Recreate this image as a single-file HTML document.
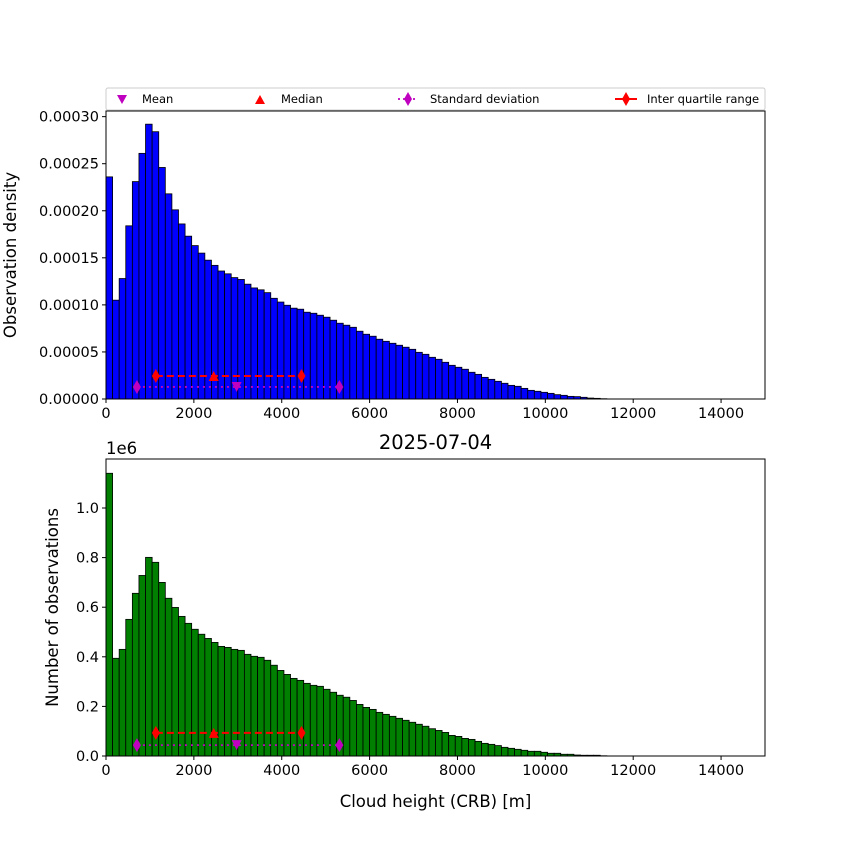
<!DOCTYPE html>
<html><head><meta charset="utf-8">
<style>
html,body{margin:0;padding:0;background:#fff;}
svg{display:block;font-family:"DejaVu Sans","Liberation Sans",sans-serif;}
</style></head>
<body>
<svg id="fig" width="850" height="850" viewBox="0 0 850 850"></svg>
<script>
const binWidth = 150;
const densityValues = [23.6,10.5,12.8,18.4,23.1,26.1,29.2,28.4,24.6,21.8,20.1,18.6,17.3,16.3,15.5,14.75,14.2,13.6,13.3,12.9,12.7,12.2,11.8,11.6,11.3,10.7,10.3,9.96,9.65,9.54,9.22,9.11,8.9,8.69,8.37,8.05,7.84,7.62,7.2,6.88,6.67,6.35,6.13,5.92,5.71,5.5,5.28,4.96,4.75,4.43,4.22,3.9,3.58,3.37,3.16,2.84,2.62,2.3,2.09,1.88,1.67,1.45,1.35,1.13,0.92,0.82,0.71,0.6,0.46,0.39,0.28,0.25,0.18,0.1,0.07,0.03];
const countValues = [1.14,0.394,0.43,0.551,0.656,0.728,0.801,0.781,0.700,0.636,0.599,0.563,0.535,0.511,0.491,0.474,0.458,0.442,0.438,0.43,0.426,0.41,0.402,0.398,0.386,0.366,0.345,0.329,0.313,0.305,0.293,0.285,0.281,0.269,0.257,0.245,0.237,0.224,0.208,0.196,0.188,0.176,0.168,0.160,0.152,0.144,0.136,0.128,0.120,0.110,0.103,0.095,0.083,0.079,0.071,0.067,0.059,0.051,0.047,0.042,0.035,0.031,0.027,0.023,0.019,0.019,0.015,0.011,0.011,0.007,0.007,0.004,0.003,0.003,0.003,0.001];
const xTicks = [0,2000,4000,6000,8000,10000,12000,14000];
const topYTicks = [0,0.00005,0.0001,0.00015,0.0002,0.00025,0.0003];
const topYLabels = ["0.00000","0.00005","0.00010","0.00015","0.00020","0.00025","0.00030"];
const botYTicks = [0,0.2,0.4,0.6,0.8,1.0];
const botYLabels = ["0.0","0.2","0.4","0.6","0.8","1.0"];
const statMean = 2974, statMedian = 2452, statQ1 = 1135, statQ3 = 4450, statSdLo = 704, statSdHi = 5312;
const topIqrY = 2.45e-5, topSdY = 1.28e-5;
const botIqrY = 0.093, botSdY = 0.044;

const NS="http://www.w3.org/2000/svg";
const svg=document.getElementById('fig');
function mk(tag,attrs,parent,text){const e=document.createElementNS(NS,tag);for(const k in attrs)e.setAttribute(k,attrs[k]);if(text!==undefined)e.textContent=text;(parent||svg).appendChild(e);return e;}

function drawPanel(cfg){
  const L=106,R=765,T=cfg.top,B=cfg.bottom;
  const xs=v=>L+(v/15000)*(R-L);
  const ys=v=>B-(v/cfg.ymax)*(B-T);
  const g=mk('g',{});
  
  
  cfg.values.forEach((v,i)=>{
    const x0=xs(i*binWidth),x1=xs((i+1)*binWidth),y=ys(v*cfg.scale);
    const r=mk('rect',{x:x0,y:y,width:x1-x0,height:B-y,fill:cfg.color,stroke:'#000','stroke-width':0.8},g);
    
    
  });
  const iy=ys(cfg.iqrY), sy=ys(cfg.sdY);
  const sd=mk('line',{x1:xs(statSdLo),x2:xs(statSdHi),y1:sy,y2:sy,stroke:'#bf00bf','stroke-width':1.8,'stroke-dasharray':'2,4'},g);
  
  
  const iq=mk('line',{x1:xs(statQ1),x2:xs(statQ3),y1:iy,y2:iy,stroke:'#ff0000','stroke-width':2,'stroke-dasharray':'7,4'},g);
  
  
  const diamond=(x,y,c)=>mk('path',{d:`M${x},${y-7} L${x+4},${y} L${x},${y+7} L${x-4},${y} Z`,fill:c},g);
  [statSdLo,statSdHi].forEach(v=>{const d=diamond(xs(v),sy,'#bf00bf');});
  [statQ1,statQ3].forEach(v=>{const d=diamond(xs(v),iy,'#ff0000');});
  const mx=xs(statMedian);
  const md=mk('path',{d:`M${mx-5},${iy+5} L${mx+5},${iy+5} L${mx},${iy-5} Z`,fill:'#ff0000'},g);
  
  
  const mn=xs(statMean);
  const me=mk('path',{d:`M${mn-5},${sy-5} L${mn+5},${sy-5} L${mn},${sy+5} Z`,fill:'#bf00bf'},g);
  
  
  const fr=mk('rect',{x:L,y:T,width:R-L,height:B-T,fill:'none',stroke:'#000','stroke-width':1},g);
  
  
  xTicks.forEach(v=>{
    mk('line',{x1:xs(v),x2:xs(v),y1:B,y2:B+4,stroke:'#000'},g);
    const t=mk('text',{x:xs(v),y:B+19,'text-anchor':'middle','font-size':14.5},g,String(v));
    
    
  });
  cfg.yTicks.forEach((v,i)=>{
    mk('line',{x1:L-4,x2:L,y1:ys(v),y2:ys(v),stroke:'#000'},g);
    const t=mk('text',{x:L-7,y:ys(v)+5,'text-anchor':'end','font-size':14.5},g,cfg.yLabels[i]);
    
    
  });
  const yl=mk('text',{x:0,y:0,transform:`translate(${cfg.ylabelX},${(T+B)/2}) rotate(-90)`,'text-anchor':'middle','font-size':16.5},g,cfg.ylabel);
  
  
}

drawPanel({name:'density-panel',top:111,bottom:399,ymax:0.000306,values:densityValues,scale:1e-5,color:'#0000ff',iqrY:topIqrY,sdY:topSdY,yTicks:topYTicks,yLabels:topYLabels,ylabel:'Observation density',ylabelX:16});
drawPanel({name:'count-panel',top:459,bottom:756,ymax:1.1976,values:countValues,scale:1,color:'#007f00',iqrY:botIqrY,sdY:botSdY,yTicks:botYTicks,yLabels:botYLabels,ylabel:'Number of observations',ylabelX:58});

const t1=mk('text',{x:106,y:454,'font-size':16.5},svg,'1e6');


const t2=mk('text',{x:435.5,y:449,'text-anchor':'middle','font-size':19.5},svg,'2025-07-04');


const t3=mk('text',{x:435.5,y:807,'text-anchor':'middle','font-size':16.5},svg,'Cloud height (CRB) [m]');



const lg=mk('g',{});


mk('rect',{x:106,y:88,width:659,height:22,fill:'#fff',stroke:'#ccc','stroke-width':1,rx:2},lg);
const ly=99;
mk('path',{d:`M117,${ly-4} L127,${ly-4} L122,${ly+5} Z`,fill:'#bf00bf'},lg);
mk('text',{x:142,y:ly+4,'font-size':11.5},lg,'Mean');
mk('path',{d:`M255,${ly+5} L265,${ly+5} L260,${ly-4} Z`,fill:'#ff0000'},lg);
mk('text',{x:281,y:ly+4,'font-size':11.5},lg,'Median');
mk('line',{x1:398,x2:418,y1:ly,y2:ly,stroke:'#bf00bf','stroke-width':1.8,'stroke-dasharray':'2,3'},lg);
mk('path',{d:`M408,${ly-7} L412,${ly} L408,${ly+7} L404,${ly} Z`,fill:'#bf00bf'},lg);
mk('text',{x:430,y:ly+4,'font-size':11.5},lg,'Standard deviation');
mk('line',{x1:615,x2:637,y1:ly,y2:ly,stroke:'#ff0000','stroke-width':2},lg);
mk('path',{d:`M626,${ly-7} L630,${ly} L626,${ly+7} L622,${ly} Z`,fill:'#ff0000'},lg);
mk('text',{x:647,y:ly+4,'font-size':11.5},lg,'Inter quartile range');
</script>
</body></html>
